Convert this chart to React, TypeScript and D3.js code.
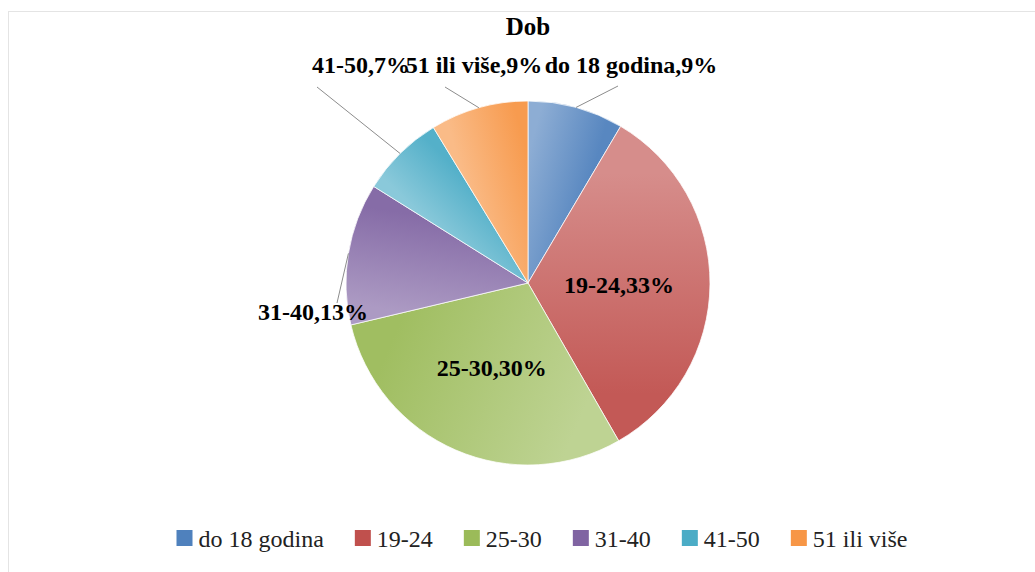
import React, { useEffect, useRef } from 'react';
import * as d3 from 'd3';

// Age groups and their shares (percent)
const categories = ['do 18 godina', '19-24', '25-30', '31-40', '41-50', '51 ili više'];
const shares = [8.5, 33.2, 29.6, 12.6, 7.4, 8.7];
const colors = ['#4F81BD', '#C0504D', '#9BBB59', '#8064A2', '#4BACC6', '#F79646'];

// Outside label anchors (Excel placed these by hand), null = inside the slice
const labelSpots: ({ x: number; y: number; lx: number; ly: number } | null)[] = [
  { x: 631, y: 73, lx: 618, ly: 86 },
  null,
  null,
  { x: 313, y: 320, lx: 337, ly: 303 },
  { x: 361, y: 73, lx: 317, ly: 87 },
  { x: 474, y: 73, lx: 445, ly: 87 },
];

const W = 1035;
const H = 572;
const FONT = "'Liberation Serif', 'DejaVu Serif', 'Noto Serif', FreeSerif, 'Nimbus Roman', Times, serif";

export default function App() {
  const svgRef = useRef<SVGSVGElement>(null);

  useEffect(() => {
    if (!svgRef.current) return;
    const svg = d3.select(svgRef.current);
    svg.selectAll('*').remove();

    const cx = 528;
    const cy = 283;
    const r = 182;

    // faint chart frame
    svg.append('rect')
      .attr('x', 8.5).attr('y', 11.5)
      .attr('width', W).attr('height', H)
      .attr('fill', 'none')
      .attr('stroke', '#e4e4e4');

    svg.append('text')
      .attr('x', cx).attr('y', 35)
      .attr('text-anchor', 'middle')
      .style('font-family', FONT)
      .attr('font-size', 25)
      .attr('font-weight', 'bold')
      .text('Dob');

    const pie = d3.pie<number>().sort(null).value(d => d);
    const arcs = pie(shares);
    const arc = d3.arc<d3.PieArcDatum<number>>().innerRadius(0).outerRadius(r);
    const edge = d3.arc<d3.PieArcDatum<number>>().innerRadius(r).outerRadius(r);
    const inner = d3.arc<d3.PieArcDatum<number>>().innerRadius(r * 0.5).outerRadius(r * 0.5);

    const defs = svg.append('defs');
    const g = svg.append('g').attr('transform', `translate(${cx},${cy})`);

    arcs.forEach((a, i) => {
      // gradient runs along the sweep: lighter where the slice starts
      const k = r * 0.7;
      const grad = defs.append('linearGradient')
        .attr('id', `sl${i}`)
        .attr('gradientUnits', 'userSpaceOnUse')
        .attr('x1', k * Math.sin(a.startAngle)).attr('y1', -k * Math.cos(a.startAngle))
        .attr('x2', k * Math.sin(a.endAngle)).attr('y2', -k * Math.cos(a.endAngle));
      grad.append('stop').attr('offset', '0%').attr('stop-color', d3.interpolateRgb(colors[i], '#fff')(0.35));
      grad.append('stop').attr('offset', '100%').attr('stop-color', d3.interpolateRgb(colors[i], '#fff')(0.05));

      g.append('path')
        .attr('d', arc(a))
        .attr('fill', `url(#sl${i})`)
        .attr('stroke', '#fff')
        .attr('stroke-width', 0.75);
    });

    // leader lines for the labels sitting outside
    arcs.forEach((a, i) => {
      const spot = labelSpots[i];
      if (!spot) return;
      const [ex, ey] = edge.centroid(a);
      svg.append('line')
        .attr('x1', cx + ex).attr('y1', cy + ey)
        .attr('x2', spot.lx).attr('y2', spot.ly)
        .attr('stroke', '#8c8c8c')
        .attr('stroke-width', 1);
    });

    // data labels
    arcs.forEach((a, i) => {
      const txt = `${categories[i]},${Math.round(shares[i])}%`;
      const spot = labelSpots[i];
      let x: number, y: number;
      if (spot) {
        x = spot.x; y = spot.y;
      } else {
        const [px, py] = inner.centroid(a);
        x = cx + px; y = cy + py + 9;
      }
      svg.append('text')
        .attr('x', x).attr('y', y)
        .attr('text-anchor', 'middle')
        .style('font-family', FONT)
        .attr('font-size', 24)
        .attr('font-weight', 'bold')
        .attr('fill', '#000')
        .text(txt);
    });

    // legend, laid out from measured text widths
    const legend = svg.append('g');
    const items = categories.map((c, i) => {
      const it = legend.append('g');
      it.append('rect')
        .attr('x', 0).attr('y', 530)
        .attr('width', 16).attr('height', 16)
        .attr('fill', colors[i]);
      const t = it.append('text')
        .attr('x', 22).attr('y', 547)
        .style('font-family', FONT)
        .attr('font-size', 24)
        .attr('fill', '#222')
        .text(c);
      const w = (t.node() as SVGTextElement).getComputedTextLength();
      return { it, w: 22 + w };
    });
    const gap = 31;
    const total = d3.sum(items, d => d.w) + gap * (items.length - 1);
    let x0 = 542 - total / 2;
    items.forEach(d => {
      d.it.attr('transform', `translate(${x0},0)`);
      x0 += d.w + gap;
    });
  }, []);

  return (
    <svg
      ref={svgRef}
      width={W}
      height={H}
      style={{ position: 'absolute', left: 0, top: 0, background: '#fff' }}
    />
  );
}
